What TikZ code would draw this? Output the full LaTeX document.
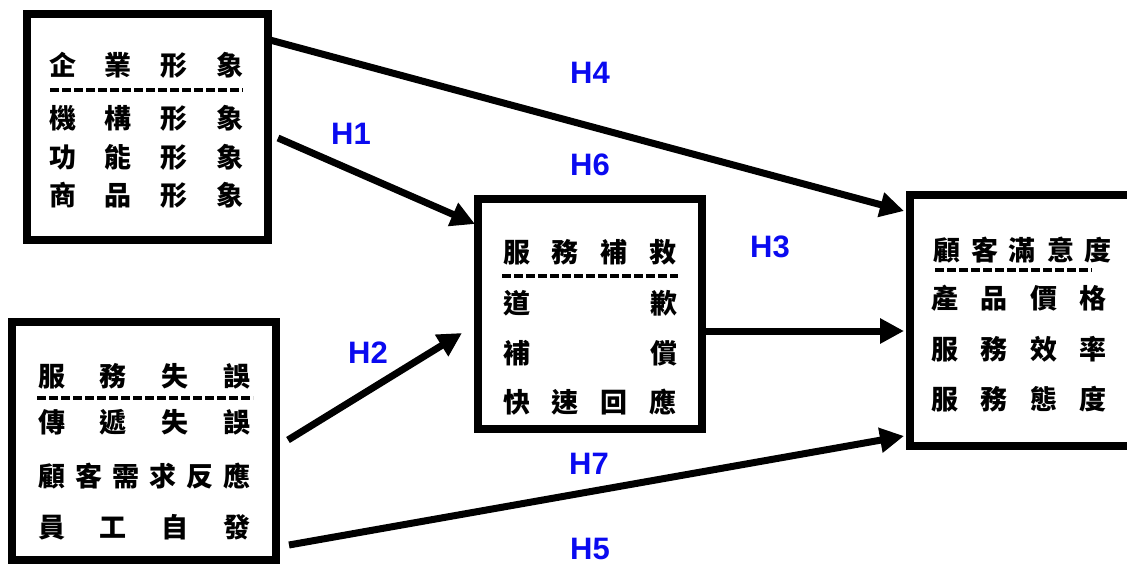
\documentclass[tikz,border=0pt]{standalone}
\usepackage{fontspec}
\setmainfont{Liberation Sans}
\newfontfamily\cjk{Noto Sans CJK TC}
\usetikzlibrary{arrows.meta}
\definecolor{hblue}{RGB}{10,10,240}
\tikzset{
  box/.style={draw, line width=8pt, rectangle, inner sep=0pt},
  cjkrow/.style={anchor=base, inner sep=0pt, font=\cjk\bfseries\fontsize{27}{27}\selectfont},
  dashline/.style={line width=3.5pt, dash pattern=on 9pt off 3pt},
  arr/.style={line width=7pt, -{Triangle[length=24pt,width=24pt]}},
  hlab/.style={anchor=base, inner sep=0pt, text=hblue, font=\bfseries\fontsize{31}{31}\selectfont}
}
\begin{document}
\begin{tikzpicture}[x=1pt,y=-1pt]
\useasboundingbox (0,0) rectangle (1127,565);
\clip (0,0) rectangle (1127,565);
\fill[white] (0,0) rectangle (1127,565);
% boxes
\node[box, minimum width=241pt, minimum height=226pt] (b1) at (147.5,127) {};
\node[box, minimum width=264pt, minimum height=238pt] (b2) at (144,441) {};
\node[box, minimum width=224pt, minimum height=230pt] (b3) at (590,314) {};
\node[box, minimum width=230pt, minimum height=251pt] (b4) at (1025,320.5) {};
% box 1
\node[cjkrow] (b1r1) at (146.5,75.5) {\makebox[195pt]{企\hfill 業\hfill 形\hfill 象}};
\coordinate (b1dl) at (50,90); \coordinate (b1dr) at (243,90);
\draw[dashline] (b1dl) -- (b1dr);
\node[cjkrow] (b1r2) at (146.5,128.5) {\makebox[195pt]{機\hfill 構\hfill 形\hfill 象}};
\node[cjkrow] (b1r3) at (146.5,167.5) {\makebox[195pt]{功\hfill 能\hfill 形\hfill 象}};
\node[cjkrow] (b1r4) at (146.5,205.5) {\makebox[195pt]{商\hfill 品\hfill 形\hfill 象}};
% box 2
\node[cjkrow] (b2r1) at (144.5,386.5) {\makebox[213pt]{服\hfill 務\hfill 失\hfill 誤}};
\coordinate (b2dl) at (37,398); \coordinate (b2dr) at (253,398);
\draw[dashline] (b2dl) -- (b2dr);
\node[cjkrow] (b2r2) at (144.5,432.5) {\makebox[213pt]{傳\hfill 遞\hfill 失\hfill 誤}};
\node[cjkrow] (b2r3) at (144.5,486.5) {\makebox[213pt]{顧\hfill 客\hfill 需\hfill 求\hfill 反\hfill 應}};
\node[cjkrow] (b2r4) at (144.5,537.5) {\makebox[213pt]{員\hfill 工\hfill 自\hfill 發}};
% box 3
\node[cjkrow] (b3r1) at (590,262.5) {\makebox[174pt]{服\hfill 務\hfill 補\hfill 救}};
\coordinate (b3dl) at (502,276); \coordinate (b3dr) at (678,276);
\draw[dashline] (b3dl) -- (b3dr);
\node[cjkrow] (b3r2) at (590,313.5) {\makebox[174pt]{道\hfill 歉}};
\node[cjkrow] (b3r3) at (590,363.5) {\makebox[174pt]{補\hfill 償}};
\node[cjkrow] (b3r4) at (590,412.5) {\makebox[174pt]{快\hfill 速\hfill 回\hfill 應}};
% box 4
\node[cjkrow] (b4r1) at (1022.5,260.5) {\makebox[179pt]{顧\hfill 客\hfill 滿\hfill 意\hfill 度}};
\coordinate (b4dl) at (935,270); \coordinate (b4dr) at (1092,270);
\draw[dashline] (b4dl) -- (b4dr);
\node[cjkrow] (b4r2) at (1019,308.5) {\makebox[176pt]{產\hfill 品\hfill 價\hfill 格}};
\node[cjkrow] (b4r3) at (1019,359.5) {\makebox[176pt]{服\hfill 務\hfill 效\hfill 率}};
\node[cjkrow] (b4r4) at (1019,409.5) {\makebox[176pt]{服\hfill 務\hfill 態\hfill 度}};
% arrows
\coordinate (h4s) at (270,40);  \coordinate (h4e) at (904,211);
\coordinate (h1s) at (278,138); \coordinate (h1e) at (475,224);
\coordinate (h2s) at (288,440); \coordinate (h2e) at (462,333);
\coordinate (h3s) at (702,331); \coordinate (h3e) at (904,331);
\coordinate (h5s) at (289,545); \coordinate (h5e) at (904,436);
\draw[arr] (h4s) -- (h4e);
\draw[arr] (h1s) -- (h1e);
\draw[arr] (h2s) -- (h2e);
\draw[arr] (h3s) -- (h3e);
\draw[arr] (h5s) -- (h5e);
% labels
\node[hlab] (lh4) at (590,83) {H4};
\node[hlab] (lh1) at (351,144) {H1};
\node[hlab] (lh6) at (590,175) {H6};
\node[hlab] (lh3) at (770,257) {H3};
\node[hlab] (lh2) at (368,363) {H2};
\node[hlab] (lh7) at (589,474) {H7};
\node[hlab] (lh5) at (590,559) {H5};
\end{tikzpicture}
\end{document}
